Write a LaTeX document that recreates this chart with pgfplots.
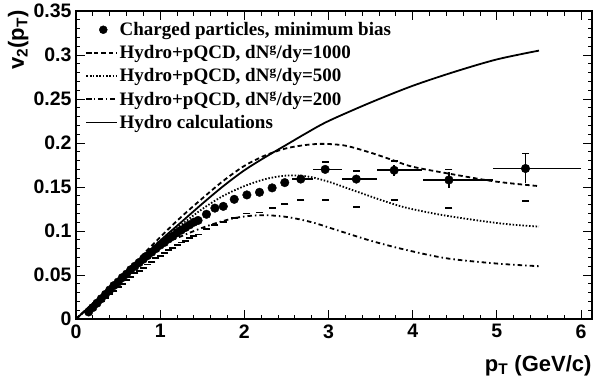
\documentclass[border=0pt]{standalone}
\usepackage{pgfplots}
\pgfplotsset{compat=1.18}
\usepackage{fontspec}
\setmainfont{Liberation Serif}
\setsansfont{Liberation Sans}
\begin{document}
\begin{tikzpicture}
\path[use as bounding box] (-76pt,-62pt) rectangle (524pt,319pt);
\begin{axis}[
  at={(0,0)}, anchor=south west,
  scale only axis, width=516pt, height=308pt,
  xmin=0, xmax=6.13, ymin=0, ymax=0.35,
  axis line style={line width=1.2pt},
  tick align=inside, xtick pos=both, ytick pos=both,
  major tick length=9pt, minor tick length=4.5pt,
  every tick/.style={line width=1pt, black},
  xtick={0,1,2,3,4,5,6}, minor x tick num=4,
  ytick={0,0.05,0.1,0.15,0.2,0.25,0.3,0.35},
  yticklabels={0,0.05,0.1,0.15,0.2,0.25,0.3,0.35},
  minor y tick num=4,
  /pgf/number format/assume math mode=true,
  tick label style={font=\fontsize{19.5}{20}\selectfont\sffamily\bfseries},
  xticklabel style={yshift=-2pt},
  yticklabel style={xshift=-1pt, inner ysep=1pt},
  xlabel={p\textsubscript{T} (GeV/c)},
  ylabel={v\textsubscript{2}(p\textsubscript{T})},
  every axis x label/.style={at={(rel axis cs:1,0)}, anchor=base east, yshift=-52pt, xshift=3pt, font=\fontsize{22}{22}\selectfont\sffamily\bfseries},
  every axis y label/.style={at={(rel axis cs:0,1)}, xshift=-52pt, yshift=4pt, rotate=90, anchor=base east, font=\fontsize{22}{22}\selectfont\sffamily\bfseries},
  legend style={draw=none, fill=none, at={(rel axis cs:0.012,0.975)}, anchor=north west,
    font=\fontsize{19}{23}\selectfont\bfseries, row sep=5.5pt,
    nodes={inner sep=1.5pt}},
  legend cell align=left,
  legend image code/.code={\draw[mark repeat=2,mark phase=2,#1] plot coordinates {(0pt,0pt) (17pt,0pt) (31pt,0pt)};},
]
\addlegendimage{only marks, mark=*, mark size=4pt, black}
\addlegendentry{Charged particles, minimum bias}

% Hydro+pQCD dN/dy=1000 (dashed)
\addplot[black, line width=1.8pt, dash pattern=on 4.5pt off 3pt, smooth, tension=0.5] coordinates {
(0,0) (0.5,0.045) (1,0.093) (1.25,0.116) (1.5,0.137) (1.75,0.157) (2,0.174) (2.25,0.186) (2.5,0.194) (2.75,0.198) (2.95,0.199) (3.2,0.197) (3.5,0.189) (3.75,0.181) (4,0.173) (4.5,0.164) (5,0.156) (5.5,0.151)};
\addlegendentry{Hydro+pQCD, dN\textsuperscript{g}/dy=1000}

% dN/dy=500 (dotted)
\addplot[black, line width=1.8pt, dash pattern=on 1.5pt off 1.8pt, smooth, tension=0.5] coordinates {
(0,0) (0.5,0.044) (1,0.088) (1.25,0.107) (1.5,0.125) (1.75,0.140) (2,0.151) (2.25,0.159) (2.5,0.163) (2.75,0.162) (3,0.156) (3.3,0.146) (3.6,0.136) (3.9,0.127) (4.3,0.119) (4.7,0.113) (5.1,0.108) (5.5,0.105)};
\addlegendentry{Hydro+pQCD, dN\textsuperscript{g}/dy=500}

% dN/dy=200 (dash-dot)
\addplot[black, line width=1.8pt, dash pattern=on 4.5pt off 3pt on 1.5pt off 3pt, smooth, tension=0.5] coordinates {
(0,0) (0.5,0.042) (1,0.082) (1.3,0.096) (1.6,0.107) (1.9,0.115) (2.2,0.118) (2.5,0.116) (2.8,0.110) (3.1,0.101) (3.5,0.089) (3.9,0.079) (4.4,0.069) (5,0.063) (5.5,0.060)};
\addlegendentry{Hydro+pQCD, dN\textsuperscript{g}/dy=200}

% Hydro (solid)
\addplot[black, line width=1.8pt, smooth, tension=0.5] coordinates {
(0,0) (0.5,0.044) (1,0.089) (1.25,0.110) (1.5,0.131) (1.75,0.151) (2,0.169) (2.25,0.184) (2.5,0.198) (2.75,0.212) (3,0.225) (3.5,0.246) (4,0.265) (4.5,0.281) (5,0.295) (5.5,0.305)};
\addlegendentry{Hydro calculations}

% systematic lower
\addplot[forget plot, only marks, mark=-, mark size=3.5pt, mark options={line width=1.8pt}, black] coordinates {
(0.30,0.020) (0.35,0.024) (0.40,0.028) (0.45,0.032) (0.50,0.036) (0.55,0.040) (0.60,0.044) (0.65,0.048) (0.70,0.052) (0.75,0.055) (0.80,0.058) (0.85,0.062) (0.90,0.065) (0.95,0.069) (1.00,0.072) (1.05,0.075) (1.10,0.078) (1.15,0.081) (1.20,0.084) (1.25,0.087) (1.30,0.089) (1.35,0.092) (1.40,0.094) (1.45,0.096) (1.55,0.102) (1.65,0.107) (1.75,0.110) (1.88,0.115) (2.03,0.120) (2.18,0.121) (2.33,0.126) (2.48,0.131) (2.67,0.135) (2.96,0.135) (3.33,0.127) (3.78,0.135) (4.43,0.126) (5.34,0.134)};
% systematic upper
\addplot[forget plot, only marks, mark=-, mark size=3.5pt, mark options={line width=1.8pt}, black] coordinates {
(2.96,0.178) (3.33,0.168) (3.78,0.180) (4.43,0.170) (5.34,0.188)};

% data
\addplot[forget plot, only marks, mark=*, mark size=4.3pt, black,
  error bars/.cd, x dir=both, x explicit, y dir=both, y explicit,
  error mark=none, error bar style={line width=1.8pt}] coordinates {
(0.15,0.008) (0.20,0.013) (0.25,0.018) (0.30,0.023) (0.35,0.028) (0.40,0.033) (0.45,0.038) (0.50,0.042) (0.55,0.047) (0.60,0.051) (0.65,0.056) (0.70,0.060) (0.75,0.064) (0.80,0.068) (0.85,0.072) (0.90,0.076) (0.95,0.080) (1.00,0.084) (1.05,0.087) (1.10,0.091) (1.15,0.094) (1.20,0.098) (1.25,0.101) (1.30,0.104) (1.35,0.107) (1.40,0.110) (1.45,0.112) (1.55,0.119) (1.65,0.126) (1.75,0.128) (1.88,0.136) (2.03,0.141) (2.18,0.144) (2.33,0.149) (2.48,0.155)
(2.67,0.159) += (0.14,0.003) -= (0.10,0.003)
(2.96,0.170) += (0.20,0.004) -= (0.15,0.004)
(3.33,0.159) += (0.24,0.004) -= (0.17,0.004)
(3.78,0.169) += (0.33,0.006) -= (0.21,0.006)
(4.43,0.158) += (0.52,0.009) -= (0.31,0.009)
(5.34,0.171) += (0.66,0.016) -= (0.39,0.016)
};
\end{axis}
\end{tikzpicture}
\end{document}
